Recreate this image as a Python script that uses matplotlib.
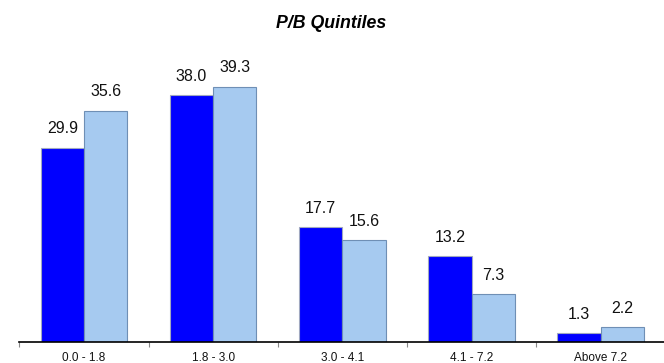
import matplotlib
matplotlib.use("Agg")
import matplotlib.pyplot as plt
import numpy as np

categories = ["0.0 - 1.8", "1.8 - 3.0", "3.0 - 4.1", "4.1 - 7.2", "Above 7.2"]
series_a = [29.9, 38.0, 17.7, 13.2, 1.3]
series_b = [35.6, 39.3, 15.6, 7.3, 2.2]

plt.rcParams['font.family'] = ['Liberation Sans', 'DejaVu Sans']

W, H = 664, 363
fig = plt.figure(figsize=(W/100, H/100), dpi=100)
# axes: left at x=19.3, right at ~665, bottom at y=341.7, top at y=30
left, right, bottom, top = 19.3, 665.3, 341.7, 30
ax = fig.add_axes([left/W, (H-bottom)/H, (right-left)/W, (bottom-top)/H])

x = np.arange(len(categories))
bw = 0.335
ax.bar(x - bw/2, series_a, width=bw, color='#0000FF', edgecolor='#a0a8c0', linewidth=0.8, zorder=2)
ax.bar(x + bw/2, series_b, width=bw, color='#A6CAF0', edgecolor='#6f8fb5', linewidth=0.8, zorder=2)

for xs, vals in ((x - bw/2, series_a), (x + bw/2, series_b)):
    for xi, v in zip(xs, vals):
        ax.annotate(f"{v:.1f}", (xi, v), xytext=(0, 10.3), textcoords='offset points',
                    ha='center', va='baseline', fontsize=11.5, color='#111111')

ax.set_xlim(-0.5, 4.5)
ax.set_ylim(0, (bottom - top)/6.49)

for s in ['top', 'right', 'left']:
    ax.spines[s].set_visible(False)
ax.spines['bottom'].set_color('#000000')
ax.spines['bottom'].set_linewidth(1.2)
ax.set_yticks([])

ax.set_xticks(np.arange(len(categories) + 1) - 0.5)
ax.set_xticklabels([])
ax.tick_params(axis='x', length=3.5, color='#888888', direction='out')
for xi, lab in zip(x, categories):
    ax.annotate(lab, (xi, 0), xytext=(0, -7.5), textcoords='offset points',
                ha='center', va='top', fontsize=8.5, color='#111111')

fig.text(331/W, 1 - 23/H, "P/B Quintiles", ha='center', va='center', fontsize=12.8,
         fontweight='bold', fontstyle='italic')

fig.savefig("out.png", dpi=100)
